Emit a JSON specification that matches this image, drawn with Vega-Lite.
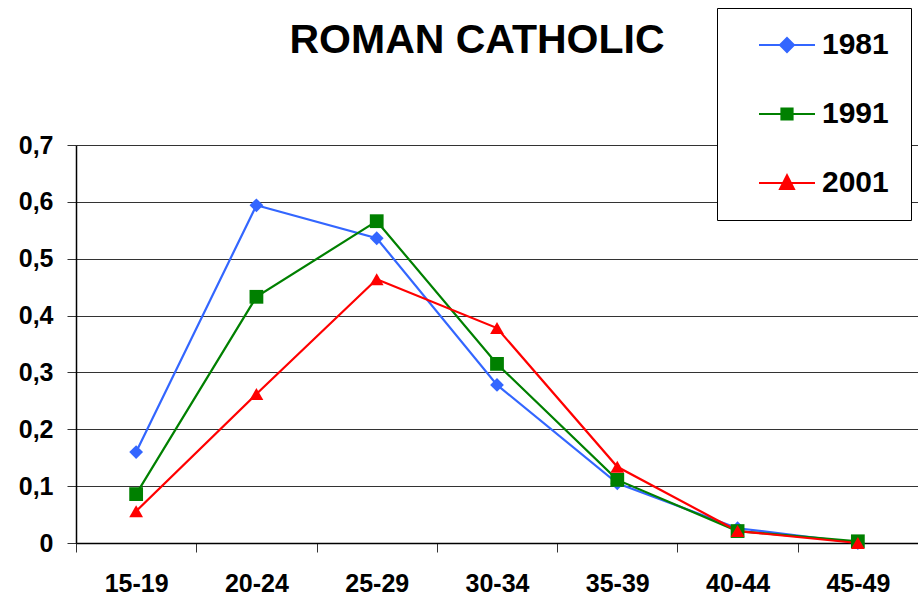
{
  "$schema": "https://vega.github.io/schema/vega-lite/v6.json",
  "width": 842,
  "height": 398,
  "autosize": {"type": "none"},
  "padding": {"left": 76, "top": 145, "right": 0, "bottom": 54},
  "background": "white",
  "title": {"text": "ROMAN CATHOLIC", "fontSize": 41, "font": "Liberation Sans", "fontWeight": "bold", "color": "black", "anchor": "middle", "frame": "group", "dx": -20, "offset": -86, "baseline": "alphabetic"},
  "config": {"view": {"stroke": null}, "font": "Liberation Sans"},
  "data": {"values": [
    {"age": "15-19", "year": "1981", "value": 0.160},
    {"age": "20-24", "year": "1981", "value": 0.594},
    {"age": "25-29", "year": "1981", "value": 0.536},
    {"age": "30-34", "year": "1981", "value": 0.278},
    {"age": "35-39", "year": "1981", "value": 0.105},
    {"age": "40-44", "year": "1981", "value": 0.026},
    {"age": "45-49", "year": "1981", "value": 0.000},
    {"age": "15-19", "year": "1991", "value": 0.086},
    {"age": "20-24", "year": "1991", "value": 0.433},
    {"age": "25-29", "year": "1991", "value": 0.566},
    {"age": "30-34", "year": "1991", "value": 0.315},
    {"age": "35-39", "year": "1991", "value": 0.111},
    {"age": "40-44", "year": "1991", "value": 0.021},
    {"age": "45-49", "year": "1991", "value": 0.003},
    {"age": "15-19", "year": "2001", "value": 0.056},
    {"age": "20-24", "year": "2001", "value": 0.262},
    {"age": "25-29", "year": "2001", "value": 0.464},
    {"age": "30-34", "year": "2001", "value": 0.378},
    {"age": "35-39", "year": "2001", "value": 0.134},
    {"age": "40-44", "year": "2001", "value": 0.021},
    {"age": "45-49", "year": "2001", "value": 0.000}
  ]},
  "encoding": {
    "x": {"field": "age", "type": "ordinal", "bandPosition": 0.5,
      "scale": {"type": "band", "paddingInner": 0, "paddingOuter": 0},
      "axis": {"title": null, "labelAngle": 0, "tickBand": "extent", "grid": false, "domainColor": "black", "domainWidth": 1.5, "tickColor": "#333", "tickSize": 9, "labelPadding": 19, "labelFontSize": 25, "labelFontWeight": "bold", "labelColor": "black", "labelFont": "Liberation Sans"}},
    "y": {"field": "value", "type": "quantitative",
      "scale": {"domain": [0, 0.7], "nice": false, "zero": true},
      "axis": {"title": null, "values": [0, 0.1, 0.2, 0.3, 0.4, 0.5, 0.6, 0.7], "labelExpr": "datum.value == 0 ? '0' : replace(format(datum.value, '.1f'), '.', ',')", "grid": true, "gridColor": "#333", "gridWidth": 1, "domainColor": "black", "domainWidth": 1.5, "tickColor": "#333", "tickSize": 9, "labelPadding": 14, "labelFontSize": 25, "labelFontWeight": "bold", "labelColor": "black", "labelFont": "Liberation Sans"}},
    "color": {"field": "year", "type": "nominal", "legend": null,
      "scale": {"domain": ["1981", "1991", "2001"], "range": ["#3366FF", "#008000", "#FF0000"]}}
  },
  "layer": [
    {"mark": {"type": "line", "strokeWidth": 2.2}},
    {"mark": {"type": "point", "filled": true, "opacity": 1, "size": 190},
      "encoding": {"shape": {"field": "year", "type": "nominal", "legend": null,
        "scale": {"domain": ["1981", "1991", "2001"], "range": ["diamond", "square", "triangle-up"]}}}},
    {"transform": [{"filter": "datum.value < 0"}],
      "mark": {"type": "point", "filled": true, "opacity": 1, "size": 196},
      "encoding": {"shape": {"field": "year", "type": "nominal",
        "scale": {"domain": ["1981", "1991", "2001"], "range": ["M-4,0H4M0,-1L1,0L0,1L-1,0Z", "M-4,0H4M-0.8,-0.8H0.8V0.8H-0.8Z", "M-4,0H4M0,-1.1L1,0.85H-1Z"]},
        "legend": {"title": null, "orient": "none", "legendX": 641, "legendY": -137, "fillColor": "white", "strokeColor": "black", "padding": 22, "symbolOffset": 33, "symbolSize": 196, "symbolStrokeWidth": 2, "labelOffset": 20, "labelFontSize": 30, "labelFont": "Liberation Sans", "labelFontWeight": "bold", "labelColor": "black", "rowPadding": 39,
          "labelExpr": "datum.label + '\u00a0\u00a0\u00a0\u00a0'",
          "symbolFillColor": {"expr": "scale('color', datum.value)"},
          "symbolStrokeColor": {"expr": "scale('color', datum.value)"},
          "encoding": {"symbols": {"fill": {"value": {"expr": "scale('color', datum.value)"}}, "stroke": {"value": {"expr": "scale('color', datum.value)"}}, "opacity": {"value": 1}}}}}}}
  ],
  "resolve": {"scale": {"shape": "independent"}}
}
